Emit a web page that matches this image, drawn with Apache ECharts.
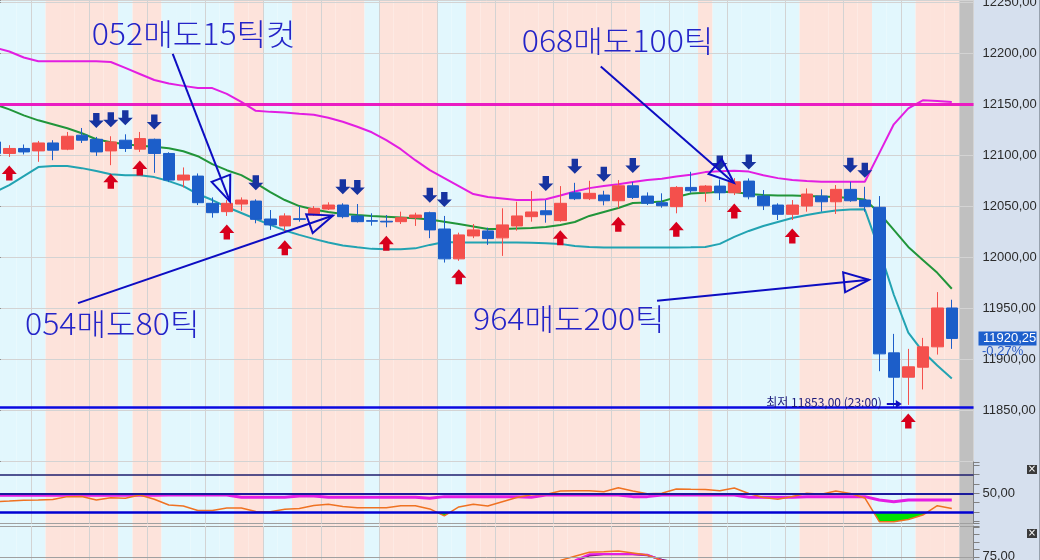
<!DOCTYPE html>
<html>
<head>
<meta charset="utf-8">
<script src="https://cdn.jsdelivr.net/npm/echarts@6/dist/echarts.min.js"></script>
<style>
html,body{margin:0;padding:0;background:#ffffff;}
#chart{width:1040px;height:560px;}
</style>
</head>
<body>
<div id="chart"></div>
<script>
// ---------- data ----------
const times = ['07:30','07:45','08:00','08:15','08:30','08:45','09:00','09:15','09:30','09:45',
'10:00','10:15','10:30','10:45','11:00','11:15','11:30','11:45','12:00','12:15',
'12:30','12:45','13:00','13:15','13:30','13:45','14:00','14:15','14:30','14:45',
'15:00','15:15','15:30','15:45','16:00','16:15','16:30','16:45','17:00','17:15',
'17:30','17:45','18:00','18:15','18:30','18:45','19:00','19:15','19:30','19:45',
'20:00','20:15','20:30','20:45','21:00','21:15','21:30','21:45','22:00','22:15',
'22:30','22:45','23:00','23:15','23:30','23:45','00:00',''];

const open = [12113.0,12101.7,12106.6,12104.2,12112.0,12105.9,12119.6,12115.6,12104.2,12114.7,
12105.9,12115.6,12101.7,12075.6,12079.5,12052.8,12044.6,12052.1,12055.0,12037.4,
12030.6,12037.7,12041.3,12047.2,12051.1,12040.4,12035.8,12035.2,12034.8,12038.7,
12043.6,12027.6,11998.3,12020.8,12025.7,12018.9,12030.6,12039.7,12045.5,12035.8,
12063.1,12057.3,12060.9,12055.3,12070.0,12059.9,12053.4,12049.5,12068.4,12064.1,
12069.7,12063.1,12074.6,12059.9,12051.1,12042.0,12050.1,12059.9,12054.3,12066.5,
12056.0,12048.9,11906.1,11882.2,11892.0,11912.0,11950.1];
const close = [12101.7,12106.6,12103.2,12112.0,12104.9,12118.6,12114.7,12103.2,12113.0,12106.6,
12116.3,12101.7,12075.6,12080.5,12053.4,12043.6,12052.8,12056.0,12037.1,12031.6,
12040.4,12036.9,12047.9,12051.1,12039.7,12034.8,12035.2,12034.5,12038.7,12041.3,
12026.7,11998.3,12021.8,12026.7,12018.2,12031.6,12040.4,12044.3,12041.6,12052.8,
12057.3,12062.6,12055.3,12070.0,12058.6,12052.8,12050.4,12068.4,12065.1,12069.7,
12063.1,12073.9,12059.2,12050.4,12042.0,12051.1,12061.9,12054.3,12066.5,12055.3,
12049.5,11905.1,11882.2,11892.4,11912.0,11950.1,11920.25];
const low = [12099.0,12098.3,12100.7,12093.5,12095.1,12104.9,12112.0,12099.3,12090.2,12103.2,
12103.2,12082.7,12073.6,12068.4,12051.1,12038.7,12040.4,12045.5,12033.2,12026.7,
12025.0,12034.8,12040.4,12046.2,12038.1,12034.0,12030.9,12029.3,12032.5,12030.6,
12018.6,11994.7,11996.4,12018.6,12012.0,12001.2,12026.0,12034.8,12033.8,12034.8,
12056.0,12056.0,12050.8,12047.9,12057.0,12051.1,12048.5,12043.0,12063.1,12054.3,
12056.0,12060.9,12056.7,12046.2,12036.4,12036.4,12044.6,12044.6,12042.3,12054.3,
12044.6,11888.1,11853.0,11855.0,11870.2,11904.4,11910.0];
const high = [12116.6,12109.8,12110.5,12114.0,12114.7,12122.8,12126.7,12117.9,12118.6,12120.5,
12122.8,12116.3,12102.9,12088.0,12082.1,12058.6,12056.0,12058.6,12056.7,12046.2,
12043.0,12050.1,12050.1,12053.8,12052.8,12052.1,12043.0,12041.3,12044.6,12043.6,
12044.6,12040.4,12024.0,12032.5,12028.9,12047.9,12054.3,12064.8,12056.0,12069.7,
12072.9,12074.9,12065.1,12075.6,12073.6,12063.5,12062.6,12069.7,12083.7,12070.7,
12076.2,12077.5,12077.2,12065.8,12052.8,12056.0,12067.4,12066.5,12070.7,12073.9,
12069.0,12059.9,11924.7,11910.0,11920.8,11965.7,11958.2];

const maMid = [12149.9,12145.0,12139.1,12134.2,12130.3,12126.4,12121.5,12115.6,12112.7,12110.8,
12109.3,12108.3,12106.8,12103.9,12099.0,12091.2,12085.3,12080.4,12072.6,12063.8,
12056.0,12050.1,12046.7,12044.3,12042.3,12041.3,12040.4,12039.7,12038.9,12038.1,
12036.9,12034.8,12032.5,12030.1,12027.6,12027.6,12028.1,12028.6,12029.6,12031.6,
12034.5,12040.4,12044.3,12048.2,12053.1,12053.6,12054.5,12058.9,12062.4,12063.1,
12064.1,12063.8,12061.9,12060.9,12060.4,12060.4,12059.9,12059.4,12058.9,12058.0,
12056.5,12043.3,12026.7,12010.0,11997.3,11984.6,11969.0];
const bandLow = [12063.8,12070.7,12079.5,12088.3,12089.3,12089.3,12087.3,12084.4,12081.4,12080.4,
12080.4,12078.5,12074.6,12069.7,12061.9,12056.0,12049.2,12043.3,12037.4,12031.6,
12026.2,12021.8,12017.9,12014.4,12011.5,12009.6,12008.1,12007.8,12007.8,12008.6,
12012.0,12014.9,12014.4,12014.3,12014.3,12014.3,12014.3,12014.0,12013.7,12013.0,
12011.0,12010.0,12009.4,12009.4,12009.4,12009.4,12009.4,12009.4,12009.6,12010.0,
12013.0,12019.8,12025.7,12030.6,12034.5,12038.4,12041.3,12043.8,12045.7,12046.7,
12046.9,12007.1,11963.1,11926.0,11907.4,11893.7,11881.0];
const bandHigh = [12205.6,12201.7,12195.8,12192.2,12192.2,12192.2,12192.2,12192.2,12191.4,12185.6,
12179.7,12173.8,12170.4,12168.0,12166.0,12165.8,12160.1,12152.3,12143.5,12142.5,
12141.8,12140.6,12139.6,12136.7,12132.8,12127.9,12122.5,12114.7,12105.9,12095.1,
12085.3,12077.5,12069.7,12061.9,12058.9,12057.5,12056.0,12056.0,12056.7,12060.4,
12064.3,12067.7,12069.7,12071.6,12073.6,12075.6,12077.0,12079.0,12080.9,12083.4,
12084.2,12084.7,12083.9,12080.4,12077.5,12075.6,12074.6,12073.9,12073.9,12073.9,
12073.9,12102.0,12130.3,12146.0,12153.8,12153.1,12152.1];

const sellAt = [7,8,9,11,18,24,25,30,31,38,40,42,44,50,52,59,60];
const buyAt = [1,8,10,16,20,27,32,39,43,47,51,55,63];

// 0 = light cyan shading, 1 = light pink shading
const shade = [0,0,0,0,1,1,1,1,1,0,1,1,0,0,0,0,0,1,1,0,0,1,1,1,1,1,0,1,1,1,1,0,0,
1,1,1,1,1,1,1,1,1,1,1,1,0,0,0,0,1,0,0,0,0,0,0,1,1,1,1,1,0,0,0,1,1,1];

const resistanceLevel = 12150;
const changePct = -0.27;

const rsi = [41.0,41.7,42.5,42.8,43.4,46.4,46.6,42.8,45.3,44.6,
48.2,43.6,37.5,36.4,31.6,31.6,34.2,34.2,30.5,30.3,
32.9,33.7,36.9,38.2,35.9,34.6,34.6,34.6,36.7,36.7,
33.2,25.7,35.3,38.2,36.4,41.0,45.5,48.5,48.7,52.5,
52.8,52.8,51.7,56.0,52.5,49.6,50.0,54.6,54.3,54.1,
52.8,55.7,49.8,45.5,43.6,46.6,50.0,48.9,52.5,49.8,
45.0,19.6,19.6,21.9,26.7,36.7,33.7];
const rsiSignal = [47.9,47.9,47.9,47.9,47.9,47.9,47.9,47.9,47.9,47.9,47.9,47.9,
48.2,48.2,48.2,48.2,48.2,45.7,45.7,45.7,45.7,47.1,47.1,
45.7,45.7,45.7,45.7,45.7,45.7,45.7,44.6,
46.4,46.4,46.4,46.4,46.4,46.4,45.7,
48.2,48.2,48.2,48.2,48.2,48.2,46.4,46.4,
48.2,48.2,48.2,48.2,48.2,48.2,45.7,45.7,45.7,45.7,
46.4,46.4,46.4,46.4,46.4,42.8,41.0,42.8,42.8,42.8,42.8];
const rsiLevels = [70, 50, 30];

const stochK = [[39,72.6],[40,75.3],[41,78.0],[42,78.3],[43,78.9],[44,77.5],[45,76.1],[46,72.6]];
const stochD = [[40,72.6],[41,76.6],[42,76.8],[43,76.8],[44,76.8],[45,76.3],[46,72.6]];
const stochSlow = [[40,72.0],[41,75.8],[42,76.6],[43,76.6],[44,76.6],[45,76.0],[46,73.0],[47,71.0]];

const notes = [
  {text:'052매도15틱컷', textAt:[6.68, 12219.4], from:[12.27, 12199.3], to:[16.22, 12054.5]},
  {text:'068매도100틱', textAt:[36.34, 12212.3], from:[41.79, 12186.9], to:[50.98, 12072.8]},
  {text:'054매도80틱', textAt:[2.08, 11934.9], from:[5.74, 11954.9], to:[23.33, 12040.8]},
  {text:'964매도200틱', textAt:[32.98, 11939.3], from:[45.67, 11957.2], to:[60.29, 11977.7]}
];

// ---------- derived ----------
const N = open.length;
const dayLow = Math.min.apply(null, low);
const lowIdx = low.indexOf(dayLow);
const fmt = v => v.toFixed(2).replace('.', ',');

const C_UP = '#f4504c', C_DN = '#1c5ec9';
const C_CYAN = '#e2f7fd', C_PINK = '#fde3db', C_GRAY = '#c0c0c0';
const GRID_COLOR = '#d3d3d3';
const LEFT = -12.45, WIDTH = 986;
const AX_FONT = '"Liberation Sans Narrow","Liberation Sans",sans-serif';

const hourLine = (i) => i > 0 && i < times.length && times[i-1].slice(3) === '00';

const candleData = open.map((o,i)=>[o, close[i], low[i], high[i]]);
const shadeData = times.map((t,i)=>({value:1, itemStyle:{color: i < N ? (shade[i] ? C_PINK : C_CYAN) : C_GRAY}}));

function catX(gridIndex){
  return {type:'category', gridIndex, data: times, boundaryGap:true,
    axisLine:{show:false}, axisTick:{show:false}, axisLabel:{show:false},
    splitLine:{show:true, interval:(i)=>hourLine(i), lineStyle:{color:GRID_COLOR, width:1}}};
}

const chart = echarts.init(document.getElementById('chart'), null, {renderer:'canvas'});

function renderNote(params, api){
  const a = notes[params.dataIndex];
  const t = api.coord(a.textAt), s = api.coord(a.from), e = api.coord(a.to);
  const dx = e[0]-s[0], dy = e[1]-s[1], L = Math.hypot(dx,dy), ux = dx/L, uy = dy/L;
  const hl = 25, hw = 10;
  const bx = e[0]-ux*hl, by = e[1]-uy*hl;
  const head = [[e[0],e[1]],[bx-uy*hw, by+ux*hw],[bx+uy*hw, by-ux*hw]];
  return {type:'group', children:[
    {type:'line', shape:{x1:s[0],y1:s[1],x2:e[0],y2:e[1]}, style:{stroke:'#0d0dc2', lineWidth:2}},
    {type:'polygon', shape:{points:head}, style:{fill:'none', stroke:'#0d0dc2', lineWidth:2}},
    {type:'text', x:t[0], y:t[1], scaleX:1.07, style:{text:a.text, fill:'#2424c8', fontSize:30, fontWeight:300,
      fontFamily:'"Noto Sans CJK KR",sans-serif', align:'left', verticalAlign:'middle'}}
  ]};
}

function renderLow(params, api){
  const p = api.coord([lowIdx, dayLow]);
  const ay = p[1]-3;
  return {type:'group', children:[
    {type:'text', x:p[0]-12, y:p[1]+1, style:{text:'최저 '+fmt(dayLow)+' ('+times[lowIdx]+')',
      fill:'#1a1a7c', fontSize:12, fontFamily:'"Noto Sans CJK KR",sans-serif', align:'right', verticalAlign:'bottom'}},
    {type:'line', shape:{x1:p[0]-7,y1:ay,x2:p[0]+4,y2:ay}, style:{stroke:'#0d0dc2', lineWidth:2}},
    {type:'polygon', shape:{points:[[p[0]+8,ay],[p[0]+2,ay-4],[p[0]+2,ay+4]]}, style:{fill:'#0d0dc2'}}
  ]};
}

function renderLast(params, api){
  const v = close[N-1];
  const p = api.coord([N-1, v]);
  return {type:'group', children:[
    {type:'rect', shape:{x:978.5, y:p[1]-7, width:58, height:14}, style:{fill:'#1d5fcc'}},
    {type:'text', x:983, y:p[1], style:{text:fmt(v), fill:'#ffffff', fontSize:13, fontFamily:AX_FONT, verticalAlign:'middle', align:'left'}},
    {type:'text', x:982, y:p[1]+13, style:{text:fmt(changePct)+'%', fill:'#2a5bc6', fontSize:13, fontFamily:AX_FONT, verticalAlign:'middle', align:'left'}}
  ]};
}

function renderFill(params, api){
  const y30 = api.coord([0, rsiLevels[2]])[1];
  const pts = rsi.map((v,i)=>api.coord([i, v]));
  const polys = [];
  let cur = null;
  for (let i=0;i<pts.length;i++){
    const p = pts[i], below = p[1] > y30;
    if (i > 0){
      const q = pts[i-1], qb = q[1] > y30;
      if (qb !== below){
        const t = (y30 - q[1])/(p[1]-q[1]);
        const x = q[0] + t*(p[0]-q[0]);
        if (below) cur = [[x, y30]];
        else { cur.push([x, y30]); polys.push(cur); cur = null; }
      }
    } else if (below) cur = [[p[0], y30]];
    if (below) cur.push([p[0], p[1]]);
  }
  if (cur){ cur.push([pts[pts.length-1][0], y30]); polys.push(cur); }
  return {type:'group', children: polys.map(pp=>({type:'polygon', shape:{points:pp}, style:{fill:'#00e400'}}))};
}

const hLine = (y, color, width) => ({yAxis:y, lineStyle:{color, width, type:'solid'}});
const mlBase = {symbol:['none','none'], silent:true, label:{show:false}, animation:false};

const option = {
  animation:false,
  backgroundColor:'#ffffff',
  grid:[
    {left:LEFT, width:WIDTH, top:0, height:461, outerBoundsMode:'none', containLabel:false},
    {left:LEFT, width:WIDTH, top:462, height:61.6, outerBoundsMode:'none', containLabel:false},
    {left:LEFT, width:WIDTH, top:526, height:53.25, outerBoundsMode:'none', containLabel:false},
    {left:LEFT, width:WIDTH, top:0, height:560, outerBoundsMode:'none', containLabel:false}
  ],
  xAxis:[
    catX(0),
    {type:'value', gridIndex:0, min:-0.5, max:times.length-0.5, show:false},
    catX(1),
    catX(2),
    {type:'category', gridIndex:3, data:times, boundaryGap:true, show:false}
  ],
  yAxis:[
    {type:'value', gridIndex:0, position:'right', min:11800, max:12252.25, interval:50,
      axisLine:{show:true, lineStyle:{color:'#808080', width:1}},
      axisTick:{show:true, length:6, lineStyle:{color:'#808080'}},
      minorTick:{show:true, splitNumber:5, length:3, lineStyle:{color:'#808080'}},
      splitLine:{show:true, lineStyle:{color:GRID_COLOR, width:1}},
      minorSplitLine:{show:false},
      axisLabel:{show:true, margin:9, color:'#2b2b2b', fontSize:13, fontFamily:AX_FONT,
        formatter:(v)=> (Math.abs(v % 50) < 1e-6 && v > 11800) ? fmt(v) : ''}},
    {type:'value', gridIndex:1, position:'right', min:17.5, max:83.5, splitNumber:7,
      axisLine:{show:true, lineStyle:{color:'#808080'}},
      axisTick:{show:true, length:6, lineStyle:{color:'#808080'}},
      splitLine:{show:false},
      axisLabel:{show:true, margin:9, color:'#2b2b2b', fontSize:13, fontFamily:AX_FONT,
        formatter:(v)=> v === 50 ? fmt(v) : ''}},
    {type:'value', gridIndex:2, position:'right', min:60, max:95.5, interval:5,
      axisLine:{show:true, lineStyle:{color:'#808080'}},
      axisTick:{show:true, length:6, lineStyle:{color:'#808080'}},
      splitLine:{show:false},
      axisLabel:{show:true, margin:9, color:'#2b2b2b', fontSize:13, fontFamily:AX_FONT,
        formatter:(v)=> v === 75 ? fmt(v) : ''}},
    {type:'value', gridIndex:3, min:0, max:1, show:false}
  ],
  graphic:[
    {type:'rect', z:-20, silent:true, shape:{x:973.5, y:0, width:67, height:560}, style:{fill:'#d6e0ee'}},
    {type:'line', silent:true, shape:{x1:1039.5, y1:0, x2:1039.5, y2:560}, style:{stroke:'#98a2ae', lineWidth:1}},
    {type:'line', silent:true, shape:{x1:0, y1:461.5, x2:973.5, y2:461.5}, style:{stroke:'#a0a0a0', lineWidth:1}},
    {type:'line', silent:true, shape:{x1:0, y1:523.5, x2:973.5, y2:523.5}, style:{stroke:'#a0a0a0', lineWidth:1}},
    {type:'line', silent:true, shape:{x1:0, y1:526.5, x2:973.5, y2:526.5}, style:{stroke:'#a0a0a0', lineWidth:1}},
    {type:'rect', silent:true, shape:{x:1027, y:465, width:10, height:9}, style:{fill:'#3a3a3a'}},
    {type:'text', silent:true, x:1032, y:469.5, style:{text:'×', fill:'#ffffff', fontSize:10, fontFamily:'DejaVu Sans', align:'center', verticalAlign:'middle'}},
    {type:'rect', silent:true, shape:{x:1027, y:529, width:10, height:9}, style:{fill:'#3a3a3a'}},
    {type:'text', silent:true, x:1032, y:533.5, style:{text:'×', fill:'#ffffff', fontSize:10, fontFamily:'DejaVu Sans', align:'center', verticalAlign:'middle'}}
  ],
  series:[
    {name:'shade', type:'bar', xAxisIndex:4, yAxisIndex:3, data:shadeData, barCategoryGap:'0%', barGap:'0%', z:-10, silent:true},
    {name:'upper', type:'line', xAxisIndex:0, yAxisIndex:0, data:bandHigh, symbol:'none', z:2,
      lineStyle:{color:'#e21ee2', width:2}},
    {name:'mid', type:'line', xAxisIndex:0, yAxisIndex:0, data:maMid, symbol:'none', z:2,
      lineStyle:{color:'#21953a', width:2}},
    {name:'lower', type:'line', xAxisIndex:0, yAxisIndex:0, data:bandLow, symbol:'none', z:2,
      lineStyle:{color:'#22a3b2', width:2}},
    {name:'price', type:'candlestick', xAxisIndex:0, yAxisIndex:0, data:candleData, barWidth:12, z:3,
      itemStyle:{color:C_UP, color0:C_DN, borderColor:C_UP, borderColor0:C_DN, borderWidth:1},
      markLine:Object.assign({}, mlBase, {data:[hLine(resistanceLevel,'#ea1cc2',3), hLine(dayLow,'#0a0ae0',2.5)]})},
    {name:'sell', type:'scatter', xAxisIndex:0, yAxisIndex:0, z:4, silent:true,
      data: sellAt.map(i=>[i, high[i]]),
      symbol:'path://M4.3,0L10.7,0L10.7,7.5L15,7.5L7.5,15L0,7.5L4.3,7.5Z',
      symbolSize:[15,15], symbolOffset:[0,-16.5], itemStyle:{color:'#1733a0', opacity:1}},
    {name:'buy', type:'scatter', xAxisIndex:0, yAxisIndex:0, z:4, silent:true,
      data: buyAt.map(i=>[i, low[i]]),
      symbol:'path://M7.5,0L15,8.5L10.7,8.5L10.7,15L4.3,15L4.3,8.5L0,8.5Z',
      symbolSize:[15,15], symbolOffset:[0,16], itemStyle:{color:'#d8001c', opacity:1}},
    {name:'notes', type:'custom', xAxisIndex:1, yAxisIndex:0, z:5, silent:true,
      data: notes.map(n=>n.to), encode:{x:0, y:1}, renderItem: renderNote},
    {name:'lowMark', type:'custom', xAxisIndex:0, yAxisIndex:0, z:5, silent:true,
      data:[[lowIdx, dayLow]], encode:{x:0, y:1}, renderItem: renderLow},
    {name:'last', type:'custom', xAxisIndex:0, yAxisIndex:0, z:10, silent:true, clip:false,
      data:[[N-1, close[N-1]]], encode:{x:0, y:1}, renderItem: renderLast},
    {name:'rsiFill', type:'custom', xAxisIndex:2, yAxisIndex:1, z:1, silent:true,
      data:[[0, rsiLevels[2]]], encode:{x:0, y:1}, renderItem: renderFill,
      markLine:Object.assign({}, mlBase, {data:[hLine(rsiLevels[0],'#1e1e6e',1.5), hLine(rsiLevels[1],'#1a1a9c',2), hLine(rsiLevels[2],'#0000d2',2.5)]})},
    {name:'rsiSignal', type:'line', xAxisIndex:2, yAxisIndex:1, data:rsiSignal, symbol:'none', z:2,
      lineStyle:{color:'#e41ee4', width:3}},
    {name:'rsi', type:'line', xAxisIndex:2, yAxisIndex:1, data:rsi, symbol:'none', z:3,
      lineStyle:{color:'#ef7222', width:1.5}},
    {name:'stochSlow', type:'line', xAxisIndex:3, yAxisIndex:2, data:stochSlow, symbol:'none', z:2,
      lineStyle:{color:'#861c86', width:2},
      markLine:Object.assign({}, mlBase, {data:[hLine(75,'#a0a0a0',1)]})},
    {name:'stochD', type:'line', xAxisIndex:3, yAxisIndex:2, data:stochD, symbol:'none', z:3,
      lineStyle:{color:'#e21ee2', width:2}},
    {name:'stochK', type:'line', xAxisIndex:3, yAxisIndex:2, data:stochK, symbol:'none', z:4,
      lineStyle:{color:'#ef7222', width:1.5}}
  ]
};
chart.setOption(option);
</script>
</body>
</html>
